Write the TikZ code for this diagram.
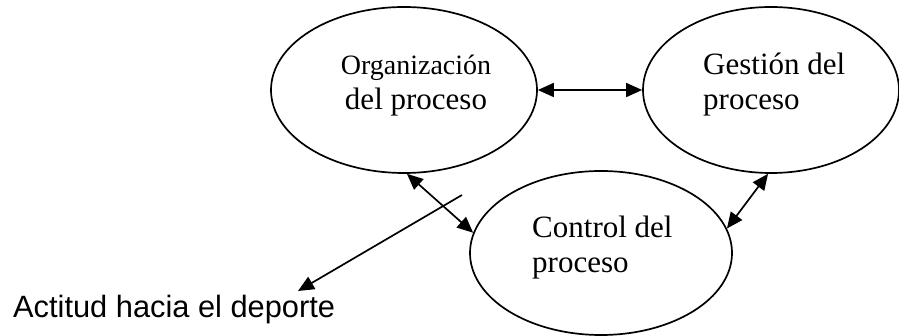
\documentclass[tikz,border=0pt]{standalone}
\usepackage{fontspec}
\setmainfont{Liberation Serif}
\newfontfamily\arialfont{Liberation Sans}
\usetikzlibrary{shapes.geometric,arrows.meta}
\begin{document}
\begin{tikzpicture}[x=1pt,y=-1pt,
  bubble/.style={draw,ellipse,line width=1.7pt,inner sep=0pt},
  label/.style={anchor=base west,inner sep=0pt,font=\fontsize{31}{35}\selectfont,align=left},
  link/.style={line width=1.7pt,{Triangle[length=16pt,width=14pt]}-{Triangle[length=16pt,width=14pt]}},
  lead/.style={line width=1.7pt,-{Triangle[length=16pt,width=14pt]}}]
\useasboundingbox (0,0) rectangle (899,336);

% the three process stages
\node[bubble,minimum width=266pt,minimum height=166pt] (org) at (404,90) {};
\node[bubble,minimum width=256pt,minimum height=166pt] (ges) at (771,90) {};
\node[bubble,minimum width=262pt,minimum height=164pt] (con) at (601,253) {};

% labels: the anchor is the baseline of the last line
\node[label,anchor=base,align=center] (orgt) at (416,110) {{\fontsize{28}{35}\selectfont Organización}\\del proceso};
\node[label] (gest) at (703,110) {Gestión del\\proceso};
\node[label] (cont) at (532,273) {Control del\\proceso};

% relations between the stages
\draw[link] (org) -- (ges);
\draw[link] (org.272) -- (con.171);
\draw[link] (con.11) -- (ges.268);

% attitude towards sport
\node[anchor=base west,inner sep=0pt,font=\arialfont\fontsize{30.8}{36}\selectfont] (act) at (13,318) {Actitud hacia el deporte};
\coordinate (from) at (462,195);
\coordinate (to) at (298,291);
\draw[lead] (from) -- (to);
\end{tikzpicture}
\end{document}
